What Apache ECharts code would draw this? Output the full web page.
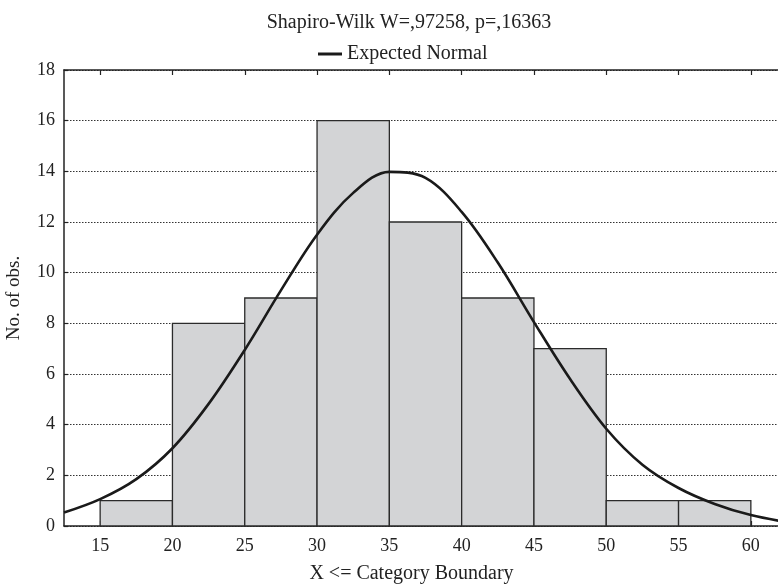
<!DOCTYPE html>
<html>
<head>
<meta charset="utf-8">
<script src="https://cdn.jsdelivr.net/npm/echarts@6/dist/echarts.min.js"></script>
<style>
  html, body { margin: 0; padding: 0; background: #fff; }
  #chart { width: 778px; height: 585px; }
</style>
</head>
<body>
<div id="chart"></div>
<script>
// Histogram classes (lower bound, upper bound) and observed counts
const binStart = [15, 20, 25, 30, 35, 40, 45, 50, 55];
const binEnd   = [20, 25, 30, 35, 40, 45, 50, 55, 60];
const counts   = [1, 8, 9, 16, 12, 9, 7, 1, 1];

// Expected normal curve, sampled along the x axis
const curveX = [12.5, 15, 17.5, 20, 22.5, 25, 27.5, 30, 32.5, 35, 37.5, 40, 42.5, 45, 47.5, 50, 52.5, 55, 57.5, 60, 62.5];
const curveY = [0.53, 1.06, 1.85, 3.07, 4.82, 6.95, 9.3, 11.5, 13.15, 13.98, 13.74, 12.4, 10.4, 8.05, 5.8, 3.84, 2.42, 1.5, 0.87, 0.43, 0.15];

// Axis ticks
const xTicks = [15, 20, 25, 30, 35, 40, 45, 50, 55, 60];
const yTicks = [0, 2, 4, 6, 8, 10, 12, 14, 16, 18];

const subtitle = 'Shapiro-Wilk W=,97258, p=,16363';
const FONT = '"Liberation Serif", "DejaVu Serif", serif';
const INK = '#222';

const barData = binStart.map((s, i) => [s, binEnd[i], counts[i]]);
const lineData = curveX.map((x, i) => [x, curveY[i]]);

const chart = echarts.init(document.getElementById('chart'), null, { renderer: 'canvas' });

chart.setOption({
  animation: false,
  backgroundColor: '#fff',
  textStyle: { fontFamily: FONT, color: INK },
  title: {
    text: subtitle,
    left: 404,
    textAlign: 'center',
    top: 8,
    textStyle: { fontFamily: FONT, fontSize: 20, fontWeight: 'normal', color: INK }
  },
  legend: {
    data: ['Expected Normal'],
    left: 313,
    top: 39,
    itemWidth: 24,
    itemHeight: 3,
    itemGap: 6,
    icon: 'rect',
    textStyle: { fontFamily: FONT, fontSize: 20, color: INK }
  },
  grid: { left: 64, top: 70, width: 723, height: 456, containLabel: false, outerBoundsMode: 'none' },
  xAxis: [{
    type: 'value',
    min: 12.5,
    max: 62.5,
    position: 'bottom',
    name: 'X <= Category Boundary',
    nameLocation: 'middle',
    nameGap: 38,
    nameTextStyle: { fontFamily: FONT, fontSize: 20, color: INK, padding: [0, 28, 0, 0] },
    axisLine: { onZero: false, lineStyle: { color: '#222', width: 1.5 } },
    axisTick: { show: true, inside: true, length: 5, customValues: xTicks, lineStyle: { color: '#222', width: 1.2 } },
    axisLabel: { customValues: xTicks, margin: 11, fontFamily: FONT, fontSize: 18, color: INK },
    splitLine: { show: false }
  }, {
    type: 'value',
    min: 12.5,
    max: 62.5,
    position: 'top',
    axisLine: { onZero: false, lineStyle: { color: '#222', width: 1.5 } },
    axisTick: { show: true, inside: true, length: 5, customValues: xTicks, lineStyle: { color: '#222', width: 1.2 } },
    axisLabel: { show: false },
    splitLine: { show: false }
  }],
  yAxis: {
    type: 'value',
    min: 0,
    max: 18,
    interval: 2,
    name: 'No. of obs.',
    nameLocation: 'middle',
    nameGap: 40,
    nameTextStyle: { fontFamily: FONT, fontSize: 19, color: INK },
    axisLine: { show: true, lineStyle: { color: '#222', width: 1.5 } },
    axisTick: { show: true, inside: true, length: 4, lineStyle: { color: '#222', width: 1.2 } },
    axisLabel: { margin: 9, fontFamily: FONT, fontSize: 18, color: INK, formatter: v => String(v) },
    splitLine: {
      show: true,
      lineStyle: { color: '#333', width: 1, type: [1.5, 1.5] }
    }
  },
  series: [{
    name: 'Counts',
    type: 'custom',
    xAxisIndex: 0,
    z: 2,
    renderItem: function (params, api) {
      const p0 = api.coord([api.value(0), 0]);
      const p1 = api.coord([api.value(1), api.value(2)]);
      return {
        type: 'rect',
        shape: { x: p0[0], y: p1[1], width: p1[0] - p0[0], height: p0[1] - p1[1] },
        style: { fill: '#d3d4d6', stroke: '#2b2b2b', lineWidth: 1.3 }
      };
    },
    encode: { x: [0, 1], y: 2 },
    data: barData
  }, {
    name: 'Expected Normal',
    type: 'line',
    xAxisIndex: 0,
    z: 3,
    smooth: 0.35,
    showSymbol: false,
    symbol: 'none',
    clip: true,
    itemStyle: { color: '#1a1a1a' },
    lineStyle: { color: '#1a1a1a', width: 2.6 },
    data: lineData
  }]
});
</script>
</body>
</html>
